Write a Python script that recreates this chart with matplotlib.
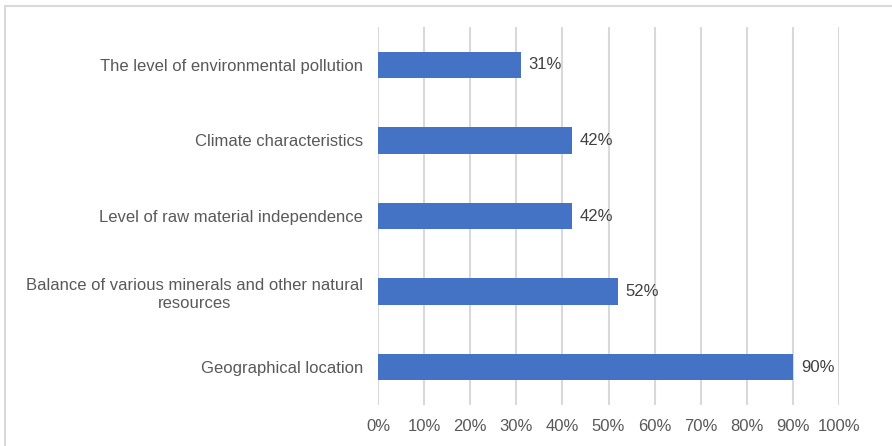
import matplotlib.pyplot as plt
from matplotlib.patches import Rectangle
from matplotlib.ticker import PercentFormatter

plt.rcParams['font.family'] = ['Liberation Sans', 'DejaVu Sans']

categories = [
    "The level of environmental pollution",
    "Climate characteristics",
    "Level of raw material independence",
    "Balance of various minerals and other natural\nresources",
    "Geographical location",
]
values = [0.31, 0.42, 0.42, 0.52, 0.90]
xticks = [i / 10 for i in range(11)]

fig = plt.figure(figsize=(8.92, 4.46), dpi=100)
ax = fig.add_axes([0.4238, 0.0919, 0.5168, 0.8475])

# light frame around the chart (cropped at right/bottom)
fig.patches.append(Rectangle((5 / 892, -0.1), 2, 1 - 6 / 446 + 0.1,
                             transform=fig.transFigure, fill=False,
                             edgecolor='#d9d9d9', linewidth=1.5))

ypos = list(range(len(categories)))
ax.barh(ypos, values, height=0.35, color='#4472c4', zorder=3)
for y, v in zip(ypos, values):
    ax.text(v + 0.017, y, f"{v:.0%}", va='center', ha='left',
            fontsize=12, color='#404040')

ax.set_xlim(0, 1)
ax.set_ylim(len(categories) - 0.5, -0.5)
ax.set_xticks(xticks)
ax.xaxis.set_major_formatter(PercentFormatter(1.0, decimals=0))
ax.set_yticks(ypos)
ax.set_yticklabels(categories, multialignment='center')
ax.tick_params(axis='y', length=0, pad=11, labelsize=12, labelcolor='#595959')
ax.tick_params(axis='x', length=0, pad=10, labelsize=12, labelcolor='#595959')
ax.grid(axis='x', color='#d9d9d9', linewidth=1.5, zorder=0)
for s in ax.spines.values():
    s.set_visible(False)

fig.savefig('out.png', dpi=100)
